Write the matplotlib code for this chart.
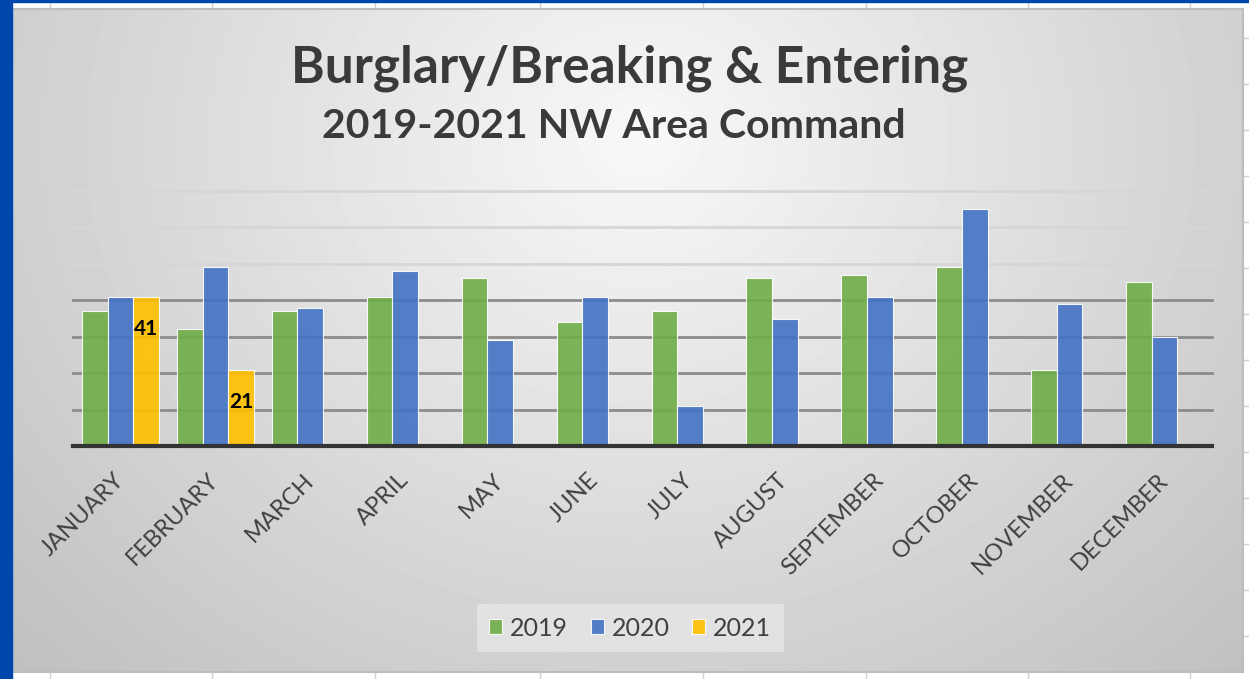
import numpy as np
import matplotlib.pyplot as plt
from matplotlib.patches import Rectangle
from matplotlib.lines import Line2D

# Data
months = ["JANUARY", "FEBRUARY", "MARCH", "APRIL", "MAY", "JUNE",
          "JULY", "AUGUST", "SEPTEMBER", "OCTOBER", "NOVEMBER", "DECEMBER"]
y2019 = [37, 32, 37, 41, 46, 34, 37, 46, 47, 49, 21, 45]
y2020 = [41, 49, 38, 48, 29, 41, 11, 35, 41, 65, 39, 30]
y2021 = [41, 21]
series_names = ["2019", "2020", "2021"]

plt.rcParams['font.family'] = ['Lato', 'DejaVu Sans']

W, H = 1249, 679
fig = plt.figure(figsize=(W / 100, H / 100), dpi=100)
fig.patch.set_facecolor('white')

# spreadsheet cell lines around the chart
for cx in [50, 212, 375, 540, 703, 866, 1028, 1190]:
    fig.add_artist(Line2D([cx / W, cx / W], [0, 1], color='#d0d0d0', lw=1, zorder=0))
for cy in np.arange(38, 679, 46):
    fig.add_artist(Line2D([1243 / W, 1], [1 - cy / H, 1 - cy / H], color='#d0d0d0', lw=1, zorder=0))

# blue window frame
fig.add_artist(Rectangle((0, 0), 12 / W, 1, color='#0047ab', zorder=5))
fig.add_artist(Rectangle((0, 1 - 2 / H), 1, 2 / H, color='#0047ab', zorder=5))

# chart area with radial gray gradient
bg = fig.add_axes([12 / W, 1 - 672 / H, (1243 - 12) / W, (672 - 9) / H], zorder=1)
gx, gy = np.meshgrid(np.arange(12, 1243), np.arange(9, 672))
r = np.sqrt(((gx - 640) / 650.0) ** 2 + ((gy - 140) / 560.0) ** 2)
shade = np.clip(248 - 42 * r, 190, 248) / 255.0
bg.imshow(shade, cmap='gray', vmin=0, vmax=1, aspect='auto', interpolation='bilinear')
bg.set_xticks([])
bg.set_yticks([])
for s in bg.spines.values():
    s.set_color('#bdbdbd')
    s.set_linewidth(1.5)

# plot area
ax = fig.add_axes([73 / W, 1 - 446.3 / H, (1212 - 73) / W, (446.3 - 190.7) / H], zorder=2)
ax.patch.set_alpha(0)
x = np.arange(len(months))
w = 0.27

# gridlines: lower ones darker, upper ones lighter
for val in range(10, 80, 10):
    col = '#8c8c8c' if val <= 40 else '#d6d6d6'
    ax.axhline(val, color=col, lw=2, zorder=1, clip_on=False)

colors = ['#70ad47', '#4472c4', '#ffc000']
ax.bar(x - w, y2019, w, color=colors[0], alpha=0.9, edgecolor='white', lw=0.8, zorder=2, label=series_names[0])
ax.bar(x, y2020, w, color=colors[1], alpha=0.9, edgecolor='white', lw=0.8, zorder=2, label=series_names[1])
ax.bar(x[:len(y2021)] + w, y2021, w, color=colors[2], alpha=0.9, edgecolor='white', lw=0.8, zorder=2, label=series_names[2])

# data labels on the 2021 bars
for xi, v in zip(x[:len(y2021)] + w, y2021):
    ax.annotate(str(v), (xi, v), xytext=(0, -32), textcoords='offset pixels',
                ha='center', va='center', fontsize=15, fontweight='bold', color='black', zorder=4)

ax.axhline(0, color='#333333', lw=3, zorder=3, clip_on=False)

ax.set_xlim(-0.5, len(months) - 0.5)
ax.set_ylim(0, 70)
ax.set_yticks([])
for s in ax.spines.values():
    s.set_visible(False)
ax.set_xticks(x)
ax.set_xticklabels(months, rotation=45, ha='right', va='center', rotation_mode='anchor',
                   fontsize=17, color='#404040')
ax.tick_params(axis='x', length=0, pad=22)

# titles
fig.text(630 / W, 1 - 68 / H, "Burglary/Breaking & Entering", ha='center', va='center',
         fontsize=37, fontweight='bold', color='#3a3a3a', zorder=6)
fig.text(614 / W, 1 - 127 / H, "2019-2021 NW Area Command", ha='center', va='center',
         fontsize=29.5, fontweight='bold', color='#3a3a3a', zorder=6)

leg = ax.legend(loc='center', bbox_to_anchor=(630 / W, 1 - 628 / H), bbox_transform=fig.transFigure,
                ncol=3, frameon=True, fontsize=18, handlelength=0.52, handleheight=0.52,
                handletextpad=0.32, columnspacing=0.9, borderpad=0.5, fancybox=False)
leg.get_frame().set_facecolor('#e6e6e6')
leg.get_frame().set_edgecolor('none')
leg.get_frame().set_alpha(0.8)
for t in leg.get_texts():
    t.set_color('#404040')

plt.savefig('out.png', dpi=100)
